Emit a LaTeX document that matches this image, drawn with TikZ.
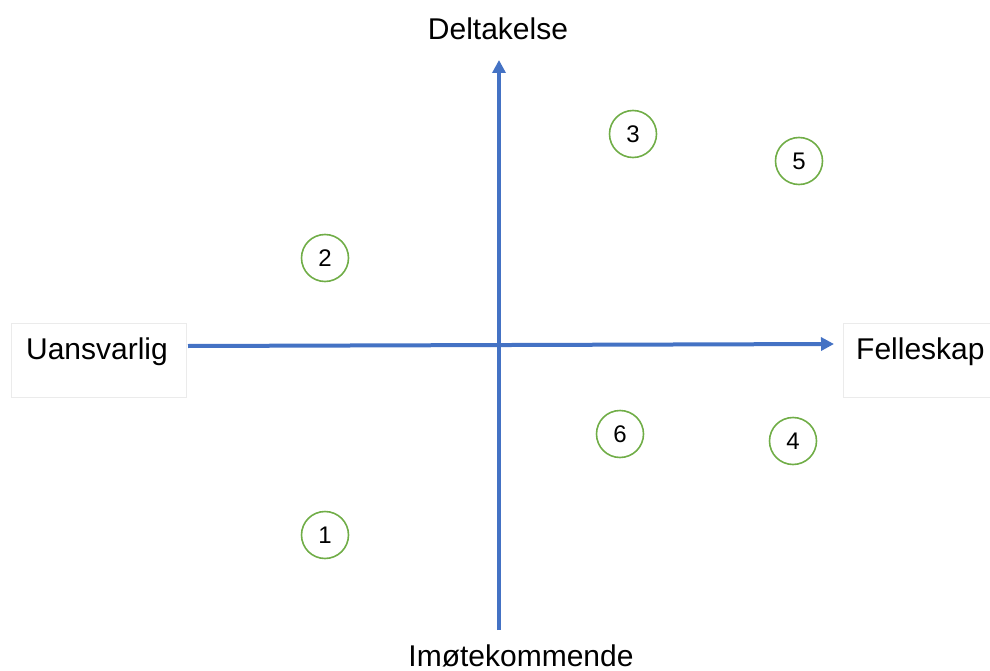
\documentclass[tikz,border=0pt]{standalone}
\usepackage{fontspec}
\setmainfont{Liberation Sans}
\usetikzlibrary{arrows.meta}
\definecolor{axisblue}{RGB}{68,114,196}
\definecolor{ringgreen}{RGB}{112,173,71}
\definecolor{boxgray}{RGB}{235,235,235}
\tikzset{
  axis/.style={draw=axisblue, line width=4pt, -{Triangle[length=13pt,width=13pt]}},
  ring/.style={circle, draw=ringgreen, line width=1.6pt, minimum size=47pt, inner sep=0pt, font=\fontsize{24}{24}\selectfont},
  endbox/.style={draw=boxgray, line width=1pt, minimum height=74pt, inner sep=0pt},
  lbl/.style={font=\fontsize{30}{30}\selectfont, inner sep=0pt}
}
\begin{document}
\begin{tikzpicture}[x=1pt,y=-1pt]
\useasboundingbox (0,0) rectangle (990,671);
\node[endbox, minimum width=175pt, anchor=north west] (ub) at (11,323) {};
\node[lbl] (u) at (97,352) {Uansvarlig};
\node[endbox, minimum width=160pt, anchor=north west] (fb) at (843,323) {};
\node[lbl, anchor=west] (f) at (856,352) {Felleskap};
\node[lbl] (d) at (498,29) {Deltakelse};
\node[lbl] (i) at (521,656) {Imøtekommende};
\coordinate (vb) at (499,630);
\coordinate (vt) at (499,60);
\coordinate (hl) at (188,346);
\coordinate (hr) at (834,344);
\draw[axis] (vb) -- (vt);
\draw[axis] (hl) -- (hr);
\node[ring] (n1) at (325,535) {1};
\node[ring] (n2) at (325,258) {2};
\node[ring] (n3) at (633,134) {3};
\node[ring] (n4) at (793,441) {4};
\node[ring] (n5) at (799,161) {5};
\node[ring] (n6) at (620,434) {6};
\end{tikzpicture}
\end{document}
